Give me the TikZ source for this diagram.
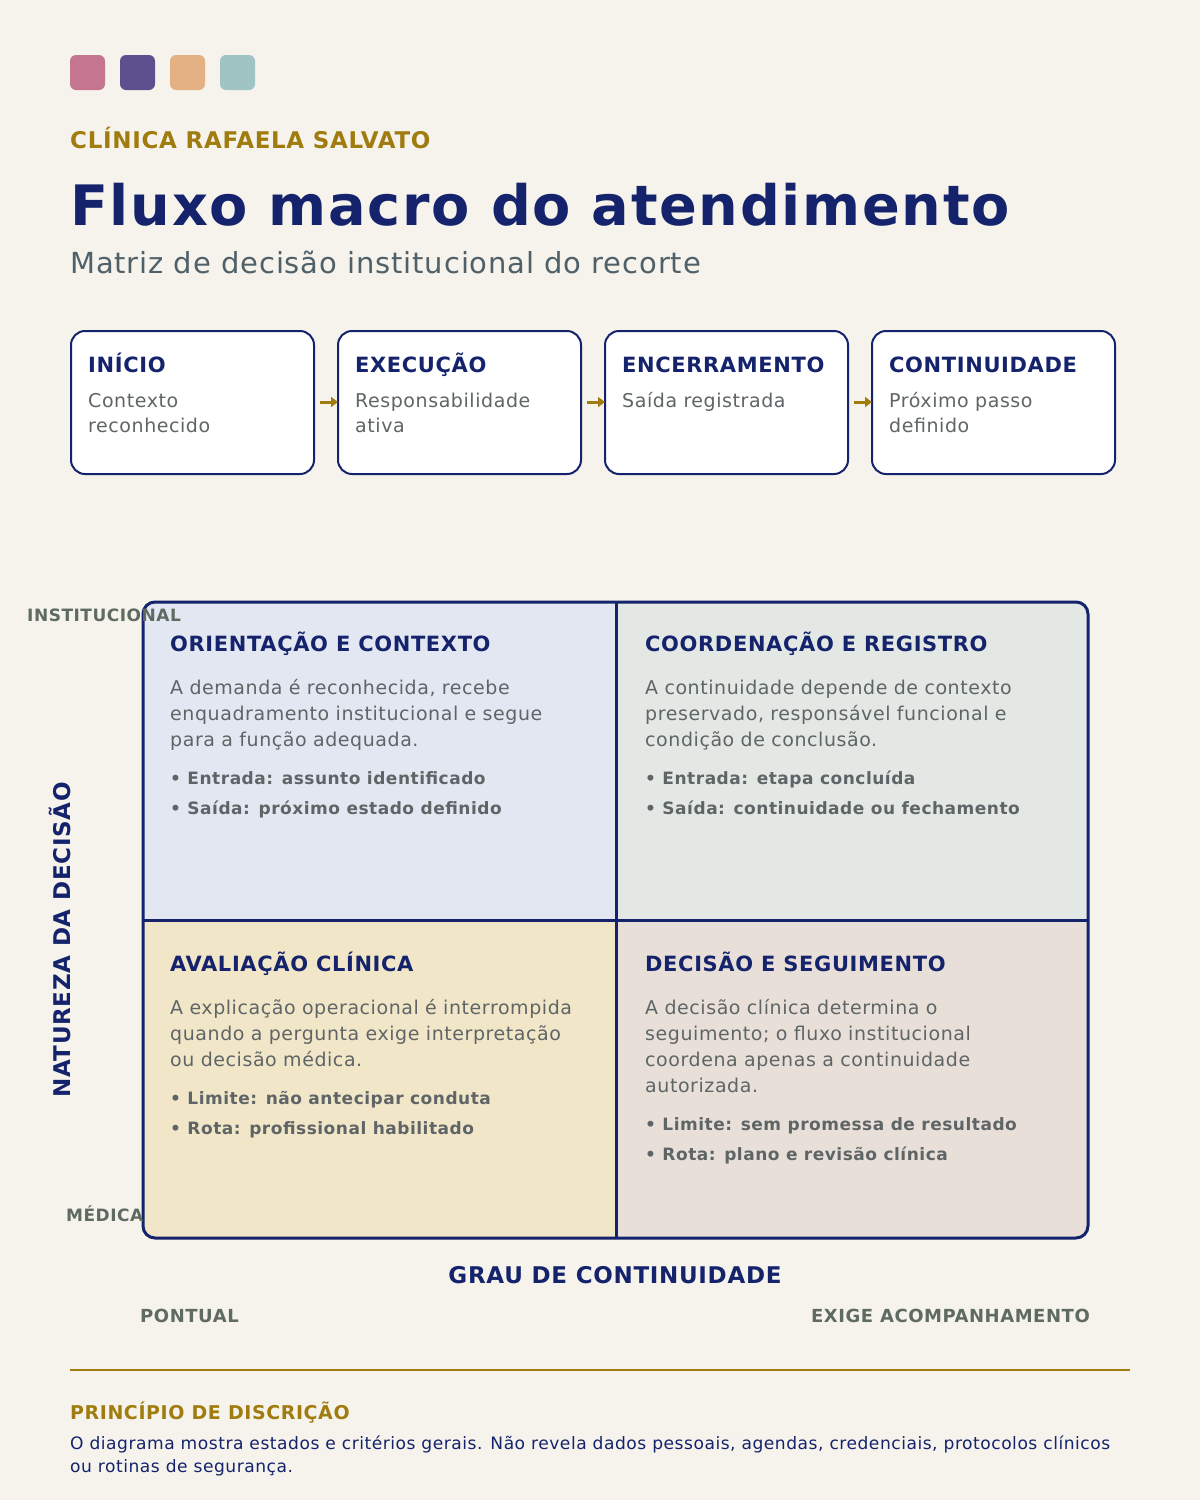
\documentclass[tikz,border=0pt]{standalone}
\usepackage{fontspec}
\setmainfont{DejaVu Sans}[LetterSpace=3]
\usetikzlibrary{arrows.meta}
\definecolor{bg}{HTML}{F6F3EC}
\definecolor{navy}{HTML}{14236B}
\definecolor{gold}{HTML}{A07C0F}
\definecolor{sub}{HTML}{4F6068}
\definecolor{txt}{HTML}{5F6566}
\definecolor{lab}{HTML}{5F6B60}
\definecolor{qa}{HTML}{E3E7F2}
\definecolor{qb}{HTML}{E4E8E4}
\definecolor{qc}{HTML}{F1E7C8}
\definecolor{qd}{HTML}{E8E0D8}
\definecolor{c1}{HTML}{C4758F}
\definecolor{c2}{HTML}{5E4F8E}
\definecolor{c3}{HTML}{E4B184}
\definecolor{c4}{HTML}{A0C4C4}
\newcommand{\fs}[1]{\fontsize{#1pt}{#1pt}\selectfont}
\newcommand{\fsl}[2]{\fontsize{#1pt}{#2pt}\selectfont}
\begin{document}
\begin{tikzpicture}[x=1pt,y=-1pt,
 t/.style={anchor=base west,inner sep=0},
 stepbox/.style={draw=navy,line width=2pt,fill=white,rounded corners=14pt},
 sh/.style={anchor=base west,inner sep=0,font=\fs{21}\bfseries,text=navy},
 st/.style={anchor=base west,inner sep=0,font=\fsl{19}{25},text=txt,align=left,text width=220pt},
 qh/.style={anchor=base west,inner sep=0,font=\fs{21}\bfseries,text=navy},
 qt/.style={anchor=base west,inner sep=0,font=\fsl{19}{26},text=txt,align=left,text width=430pt},
 qbul/.style={anchor=base west,inner sep=0,font=\fs{17}\bfseries,text=txt},
 ar/.style={-{Triangle[length=7pt,width=10pt]},draw=gold,line width=3pt}]
\fill[bg] (0,0) rectangle (1200,1500);
\useasboundingbox (0,0) rectangle (1200,1500);
\foreach \x/\c in {70/c1,120/c2,170/c3,220/c4}
 \fill[\c,rounded corners=6pt] (\x,55) rectangle ++(35,35);
\node[t,font=\fs{23}\bfseries,text=gold] (brand) at (70,148) {CLÍNICA RAFAELA SALVATO};
\node[t,font=\fs{55.7}\bfseries,text=navy] (title) at (70,225) {Fluxo macro do atendimento};
\node[t,font=\fs{29},text=sub] (subt) at (70,273) {Matriz de decisão institucional do recorte};
% steps
\foreach \x in {71,338,605,872}
 \draw[stepbox] (\x,331) rectangle ++(243,143);
\node[sh] (h1) at (88,372) {INÍCIO};
\node[st] (b1) at (88,407) {Contexto\\reconhecido};
\node[sh] (h2) at (355,372) {EXECUÇÃO};
\node[st] (b2) at (355,407) {Responsabilidade\\ativa};
\node[sh] (h3) at (622,372) {ENCERRAMENTO};
\node[st] (b3) at (622,407) {Saída registrada};
\node[sh] (h4) at (889,372) {CONTINUIDADE};
\node[st] (b4) at (889,407) {Próximo passo\\definido};
\coordinate (a1) at (320,402); \coordinate (a1e) at (338,402);
\coordinate (a2) at (587,402); \coordinate (a2e) at (605,402);
\coordinate (a3) at (854,402); \coordinate (a3e) at (872,402);
\draw[ar] (a1) -- (a1e); \draw[ar] (a2) -- (a2e); \draw[ar] (a3) -- (a3e);
% matrix
\begin{scope}
\clip[rounded corners=12pt] (143,602) rectangle (1088,1238);
\fill[qa] (143,602) rectangle (616,920);
\fill[qb] (616,602) rectangle (1088,920);
\fill[qc] (143,920) rectangle (616,1238);
\fill[qd] (616,920) rectangle (1088,1238);
\end{scope}
\draw[navy,line width=3pt,rounded corners=12pt] (143,602) rectangle (1088,1238);
\draw[navy,line width=3pt] (616,602) -- (616,1238) (143,920) -- (1088,920);
\node[qh] (q1) at (170,651) {ORIENTAÇÃO E CONTEXTO};
\node[qt] at (170,694) {A demanda é reconhecida, recebe\\enquadramento institucional e segue\\para a função adequada.};
\node[qbul] at (170,784) {• Entrada: assunto identificado};
\node[qbul] at (170,814) {• Saída: próximo estado definido};
\node[qh] (q2) at (645,651) {COORDENAÇÃO E REGISTRO};
\node[qt] at (645,694) {A continuidade depende de contexto\\preservado, responsável funcional e\\condição de conclusão.};
\node[qbul] at (645,784) {• Entrada: etapa concluída};
\node[qbul] at (645,814) {• Saída: continuidade ou fechamento};
\node[qh] (q3) at (170,971) {AVALIAÇÃO CLÍNICA};
\node[qt] at (170,1014) {A explicação operacional é interrompida\\quando a pergunta exige interpretação\\ou decisão médica.};
\node[qbul] at (170,1104) {• Limite: não antecipar conduta};
\node[qbul] at (170,1134) {• Rota: profissional habilitado};
\node[qh] (q4) at (645,971) {DECISÃO E SEGUIMENTO};
\node[qt] at (645,1014) {A decisão clínica determina o\\seguimento; o fluxo institucional\\coordena apenas a continuidade\\autorizada.};
\node[qbul] at (645,1130) {• Limite: sem promessa de resultado};
\node[qbul] at (645,1160) {• Rota: plano e revisão clínica};
% axes
\node[t,font=\fs{17}\bfseries,text=lab] (inst) at (27,621) {INSTITUCIONAL};
\node[t,font=\fs{17}\bfseries,text=lab] (med) at (66,1221) {MÉDICA};
\node[font=\fs{23}\bfseries,text=navy,rotate=90,inner sep=0] (yax) at (60,940) {NATUREZA DA DECISÃO};
\node[font=\fs{23}\bfseries,text=navy,inner sep=0] (xax) at (615,1275) {GRAU DE CONTINUIDADE};
\node[t,font=\fs{18}\bfseries,text=lab] (pont) at (140,1322) {PONTUAL};
\node[anchor=base east,inner sep=0,font=\fs{18}\bfseries,text=lab] (exig) at (1090,1322) {EXIGE ACOMPANHAMENTO};
% footer
\draw[gold,line width=2pt] (70,1370) -- (1130,1370);
\node[t,font=\fs{19}\bfseries,text=gold] (pr) at (70,1419) {PRINCÍPIO DE DISCRIÇÃO};
\node[t,font=\fs{17.1},text=navy] (f1) at (70,1449) {O diagrama mostra estados e critérios gerais. Não revela dados pessoais, agendas, credenciais, protocolos clínicos};
\node[t,font=\fs{17.1},text=navy] (f2) at (70,1472) {ou rotinas de segurança.};
\end{tikzpicture}
\end{document}
